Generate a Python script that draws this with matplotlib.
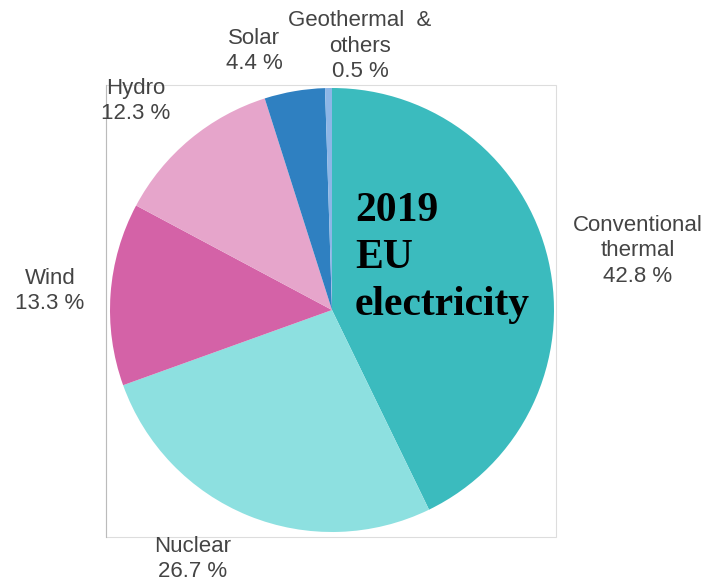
import matplotlib.pyplot as plt
from matplotlib.patches import Rectangle

# data (share of EU electricity generation, 2019)
sources = ['Conventional\nthermal', 'Nuclear', 'Wind', 'Hydro', 'Solar', 'Geothermal  &\nothers']
shares = [42.8, 26.7, 13.3, 12.3, 4.4, 0.5]
colors = ['#3BBBBE', '#8DE0E0', '#D462A7', '#E6A5CB', '#2F80C1', '#8DB6E6']

# label anchor points (pixels, from top-left)
label_xy = [(638, 251), (193, 559), (50, 291), (136, 101), (254, 51), (360, 46)]

W, H = 704, 582
fig = plt.figure(figsize=(W / 100, H / 100), dpi=100)
ax = fig.add_axes([0, 0, 1, 1])

# faint frame of the original screenshot
ax.add_patch(Rectangle((106, H - 537), 450, 452, fill=False,
                       edgecolor='#dddddd', linewidth=0.8))
ax.plot([106, 106], [H - 537, H - 85], color='#bbbbbb', lw=0.8)

ax.pie(shares, colors=colors, startangle=90, counterclock=False,
       center=(332, H - 310), radius=222, frame=True,
       wedgeprops=dict(linewidth=0))
ax.set_xlim(0, W)
ax.set_ylim(0, H)
ax.set_aspect('equal')
ax.axis('off')

for name, val, (x, y) in zip(sources, shares, label_xy):
    ax.text(x, H - y, f'{name}\n{val} %', ha='center', va='center',
            fontsize=16, color='#444444', family='Liberation Sans',
            linespacing=1.3)

ax.text(355, H - 258, '2019\nEU\nelectricity', ha='left', va='center',
        fontsize=30, fontweight='bold', family='Liberation Serif',
        color='black', linespacing=1.32)

fig.savefig('out.png', dpi=100)
